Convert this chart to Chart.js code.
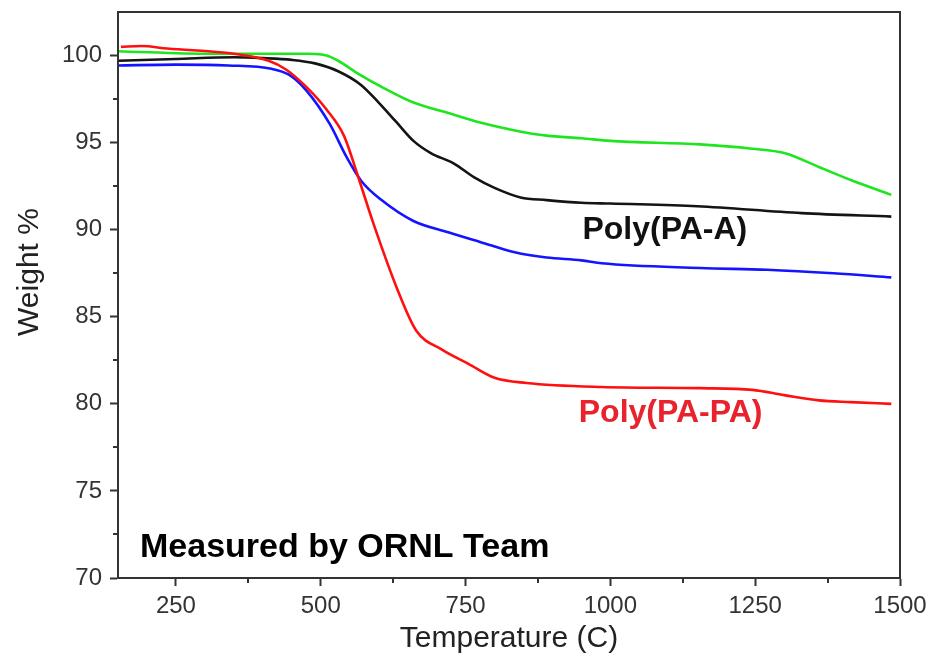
<!DOCTYPE html>
<html>
<head>
<meta charset="utf-8">
<script src="https://cdn.jsdelivr.net/npm/chart.js@4"></script>
<style>
  html, body { margin: 0; padding: 0; background: #fff; }
  #wrap { width: 931px; height: 660px; }
</style>
</head>
<body>
<div id="wrap"><canvas id="tga-chart"></canvas></div>
<script>
// values (temperature in C, weight in %)
const blackT = [150, 250, 350, 400, 450, 490, 530, 570, 600, 630, 660, 690, 730, 765, 800, 845, 890, 950, 1000, 1150, 1330, 1485];
const blackW = [99.7, 99.8, 99.9, 99.85, 99.75, 99.55, 99.1, 98.3, 97.3, 96.2, 95.1, 94.4, 93.8, 93.0, 92.4, 91.85, 91.7, 91.55, 91.5, 91.35, 90.95, 90.75];

const greenT = [150, 310, 480, 510, 530, 565, 605, 660, 720, 775, 835, 890, 950, 1000, 1155, 1245, 1300, 1360, 1415, 1485];
const greenW = [100.25, 100.1, 100.1, 100.0, 99.7, 98.95, 98.2, 97.3, 96.7, 96.15, 95.7, 95.4, 95.25, 95.1, 94.9, 94.65, 94.4, 93.6, 92.85, 92.0];

const redT = [155, 190, 235, 350, 410, 440, 475, 510, 540, 563, 591, 632, 665, 710, 755, 800, 855, 985, 1155, 1245, 1300, 1360, 1415, 1485];
const redW = [100.5, 100.55, 100.4, 100.1, 99.7, 99.2, 98.2, 96.9, 95.4, 93.2, 90.35, 86.6, 84.2, 83.1, 82.3, 81.5, 81.2, 80.97, 80.9, 80.8, 80.5, 80.2, 80.1, 80.0];

const blueT = [150, 250, 340, 415, 445, 475, 515, 545, 570, 605, 660, 720, 775, 835, 890, 950, 985, 1155, 1270, 1385, 1485];
const blueW = [99.43, 99.48, 99.43, 99.24, 98.9, 98.0, 96.1, 94.15, 92.8, 91.7, 90.5, 89.85, 89.3, 88.7, 88.4, 88.24, 88.07, 87.8, 87.7, 87.5, 87.26];

const xTicks = [250, 500, 750, 1000, 1250, 1500];
const xMinorTicks = [375, 625, 875, 1125, 1375];
const yTicks = [70, 75, 80, 85, 90, 95, 100];
const yMinorTicks = [72.5, 77.5, 82.5, 87.5, 92.5, 97.5];

const FONT = "'Liberation Sans', Arial, sans-serif";

function pts(xs, ys) {
  return xs.map((x, i) => ({ x: x, y: ys[i] }));
}

function series(label, xs, ys, color) {
  return {
    label: label,
    data: pts(xs, ys),
    borderColor: color,
    backgroundColor: color,
    borderWidth: 2.6,
    pointRadius: 0,
    cubicInterpolationMode: 'monotone',
    fill: false
  };
}

// box round the plot, short minor ticks, y title and the text notes
const framePlugin = {
  id: 'frame',
  afterDraw(chart) {
    const { ctx, chartArea: a, scales: { x, y } } = chart;
    ctx.save();
    ctx.strokeStyle = '#333';
    ctx.lineWidth = 2;
    ctx.strokeRect(a.left, a.top, a.right - a.left, a.bottom - a.top);

    ctx.beginPath();
    xMinorTicks.forEach(v => {
      const px = Math.round(x.getPixelForValue(v));
      ctx.moveTo(px, a.bottom);
      ctx.lineTo(px, a.bottom + 5);
    });
    yMinorTicks.forEach(v => {
      const py = Math.round(y.getPixelForValue(v));
      ctx.moveTo(a.left, py);
      ctx.lineTo(a.left - 5, py);
    });
    ctx.stroke();

    // y axis title sits a bit above the middle in the original
    ctx.save();
    ctx.translate(30, 272);
    ctx.rotate(-Math.PI / 2);
    ctx.textAlign = 'center';
    ctx.textBaseline = 'middle';
    ctx.fillStyle = '#222';
    ctx.font = '30px ' + FONT;
    ctx.fillText('Weight %', 0, 0);
    ctx.restore();

    ctx.textBaseline = 'middle';
    ctx.font = 'bold 32px ' + FONT;
    ctx.textAlign = 'center';
    ctx.fillStyle = '#111';
    ctx.fillText('Poly(PA-A)', x.getPixelForValue(1094), y.getPixelForValue(89.96));
    ctx.fillStyle = '#e8232d';
    ctx.fillText('Poly(PA-PA)', x.getPixelForValue(1104), y.getPixelForValue(79.46));
    ctx.textAlign = 'left';
    ctx.fillStyle = '#000';
    ctx.font = 'bold 34px ' + FONT;
    ctx.fillText('Measured by ORNL Team', x.getPixelForValue(188), y.getPixelForValue(71.77));
    ctx.restore();
  }
};

new Chart(document.getElementById('tga-chart'), {
  type: 'line',
  data: {
    datasets: [
      series('Poly(PA-PA)', redT, redW, '#ff1010'),
      series('Blue', blueT, blueW, '#1414ff'),
      series('Poly(PA-A)', blackT, blackW, '#141414'),
      series('Green', greenT, greenW, '#1fe51f')
    ]
  },
  options: {
    responsive: true,
    maintainAspectRatio: false,
    animation: false,
    layout: { padding: { top: 12, right: 31, left: 0, bottom: 0 } },
    plugins: {
      legend: { display: false },
      tooltip: { enabled: false }
    },
    scales: {
      x: {
        type: 'linear',
        min: 150,
        max: 1500,
        afterBuildTicks: s => { s.ticks = xTicks.map(v => ({ value: v })); },
        afterFit: s => { s.height = 82; s.paddingLeft = 0; s.paddingRight = 0; },
        grid: { drawOnChartArea: false, tickLength: 8, tickColor: '#333', tickWidth: 2 },
        border: { color: '#333', width: 2 },
        ticks: {
          color: '#333',
          padding: 6,
          maxRotation: 0,
          font: { family: FONT, size: 24 },
          callback: v => String(v)
        },
        title: {
          display: true,
          text: 'Temperature (C)',
          color: '#222',
          font: { family: FONT, size: 30 },
          padding: { top: 0, bottom: 3 }
        }
      },
      y: {
        type: 'linear',
        min: 70,
        max: 102.5,
        afterBuildTicks: s => { s.ticks = yTicks.map(v => ({ value: v })); },
        afterFit: s => { s.width = 118; s.paddingTop = 0; s.paddingBottom = 0; },
        grid: { drawOnChartArea: false, tickLength: 8, tickColor: '#333', tickWidth: 2 },
        border: { color: '#333', width: 2 },
        ticks: {
          color: '#333',
          padding: 8,
          font: { family: FONT, size: 24 },
          callback: v => String(v)
        }
      }
    }
  },
  plugins: [framePlugin]
});
</script>
</body>
</html>
